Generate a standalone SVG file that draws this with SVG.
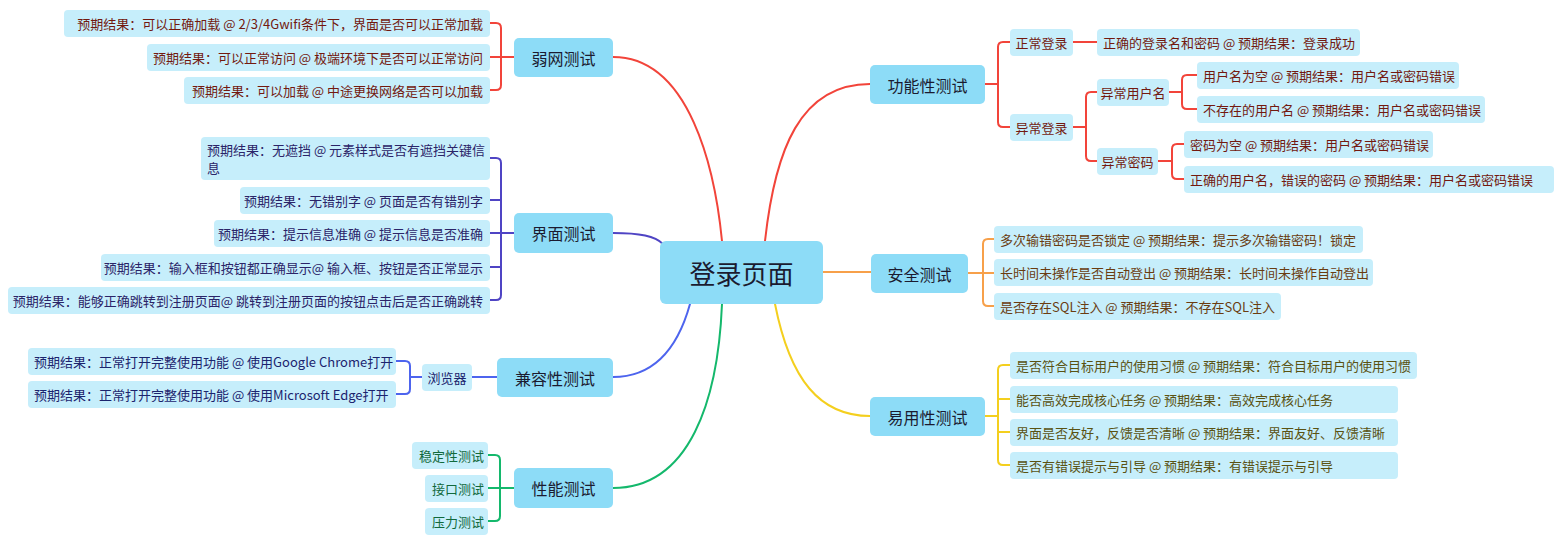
<svg xmlns="http://www.w3.org/2000/svg" width="1561" height="550" viewBox="0 0 1561 550">
<style>
text{font-family:"Noto Sans CJK SC","Noto Sans",sans-serif;dominant-baseline:central}
.main{fill:#8ddcf7}
.leaf{fill:#c6eefb}
.mt{font-size:16px;fill:#1b1b30;text-anchor:middle}
.lt{font-size:13px}
.r{fill:#73190f}.p{fill:#2b2468}.b{fill:#1b246e}.g{fill:#11693c}.o{fill:#6a3c10}.y{fill:#5a5212}
.e{text-anchor:end}.s{text-anchor:start}.m{text-anchor:middle}
#connectors path{fill:none;stroke-width:2;stroke-linecap:round}
.cr{stroke:#f2443a}.cp{stroke:#4f44c4}.cb{stroke:#4d64ee}.cg{stroke:#14b86c}.co{stroke:#f7a04a}.cy{stroke:#f4cf1e}
</style>
<rect width="1561" height="550" fill="#ffffff"/>
<g id="connectors">
<path class="cr" d="M613,57 C690,57 715,170 722,241"/>
<path class="cr" d="M765,241 C775,150 800,84 870,84"/>
<path class="cp" d="M613,233 C640,233 655,236 663,244"/>
<path class="cb" d="M613,377 C660,377 680,340 690,304"/>
<path class="cg" d="M613,488 C690,488 718,400 722,304"/>
<path class="co" d="M823,272 H871"/>
<path class="cy" d="M775,304 C790,380 820,416 870,416"/>
<path class="cr" d="M514,57 H490 M490,23 H496 Q501,23 501,28 V85 Q501,90 496,90 H490"/>
<path class="cp" d="M514,233 H490 M490,158 H496 Q501,158 501,163 V295 Q501,300 496,300 H490 M490,200 H501 M490,267 H501"/>
<path class="cb" d="M472,377 H497 M422,377 H410 M396,361 H405 Q410,361 410,366 V389 Q410,394 405,394 H396"/>
<path class="cg" d="M514,488 H488 M488,455 H495 Q500,455 500,460 V516 Q500,521 495,521 H488"/>
<path class="cr" d="M985,84 H998 M1010,42 H1003 Q998,42 998,47 V122 Q998,127 1003,127 H1010"/>
<path class="cr" d="M1073,42 H1097"/>
<path class="cr" d="M1073,127 H1086 M1097,92 H1091 Q1086,92 1086,97 V156 Q1086,161 1091,161 H1097"/>
<path class="cr" d="M1169,92 H1182 M1197,75 H1187 Q1182,75 1182,80 V104 Q1182,109 1187,109 H1197"/>
<path class="cr" d="M1158,161 H1172 M1184,144 H1177 Q1172,144 1172,149 V174 Q1172,179 1177,179 H1184"/>
<path class="co" d="M968,273 H994 M994,239 H988 Q983,239 983,244 V301 Q983,306 988,306 H994"/>
<path class="cy" d="M985,416 H998 M1010,365 H1003 Q998,365 998,370 V460 Q998,465 1003,465 H1010 M998,399 H1010 M998,432 H1010"/>
</g>
<g id="root">
<rect class="main" x="660" y="241" width="163" height="63" rx="6"/>
<text x="741.5" y="272.5" style="font-size:26px;fill:#1b1b30;text-anchor:middle">登录页面</text>
</g>
<!-- 弱网测试 -->
<g id="n-ruowang"><rect class="main" x="514" y="38" width="99" height="39" rx="5"/><text class="mt" x="563.5" y="57.5">弱网测试</text></g>
<g id="n-rw1"><rect class="leaf" x="64" y="10" width="426" height="27" rx="4"/><text class="lt r e" x="483" y="23.5">预期结果：可以正确加载 @ 2/3/4Gwifi条件下，界面是否可以正常加载</text></g>
<g id="n-rw2"><rect class="leaf" x="147" y="44" width="343" height="27" rx="4"/><text class="lt r e" x="483" y="57.5">预期结果：可以正常访问 @ 极端环境下是否可以正常访问</text></g>
<g id="n-rw3"><rect class="leaf" x="184" y="77" width="306" height="27" rx="4"/><text class="lt r e" x="483" y="90.5">预期结果：可以加载 @ 中途更换网络是否可以加载</text></g>
<!-- 界面测试 -->
<g id="n-jiemian"><rect class="main" x="514" y="213" width="99" height="40" rx="5"/><text class="mt" x="563.5" y="233">界面测试</text></g>
<g id="n-jm1"><rect class="leaf" x="201" y="137" width="289" height="43" rx="4"/><text class="lt p s" x="207" y="149">预期结果：无遮挡 @ 元素样式是否有遮挡关键信</text><text class="lt p s" x="207" y="167">息</text></g>
<g id="n-jm2"><rect class="leaf" x="240" y="187" width="250" height="27" rx="4"/><text class="lt p e" x="483" y="200.5">预期结果：无错别字 @ 页面是否有错别字</text></g>
<g id="n-jm3"><rect class="leaf" x="214" y="220" width="276" height="27" rx="4"/><text class="lt p e" x="483" y="233.5">预期结果：提示信息准确 @ 提示信息是否准确</text></g>
<g id="n-jm4"><rect class="leaf" x="101" y="254" width="389" height="27" rx="4"/><text class="lt p e" x="483" y="267.5">预期结果：输入框和按钮都正确显示@ 输入框、按钮是否正常显示</text></g>
<g id="n-jm5"><rect class="leaf" x="8" y="287" width="482" height="27" rx="4"/><text class="lt p e" x="483" y="300.5">预期结果：能够正确跳转到注册页面@ 跳转到注册页面的按钮点击后是否正确跳转</text></g>
<!-- 兼容性测试 -->
<g id="n-jianrong"><rect class="main" x="497" y="358" width="116" height="39" rx="5"/><text class="mt" x="555" y="377.5">兼容性测试</text></g>
<g id="n-browser"><rect class="leaf" x="422" y="364" width="50" height="27" rx="4"/><text class="lt b m" x="447" y="377.5">浏览器</text></g>
<g id="n-jr1"><rect class="leaf" x="28" y="348" width="368" height="27" rx="4"/><text class="lt b s" x="34" y="361.5">预期结果：正常打开完整使用功能 @ 使用Google Chrome打开</text></g>
<g id="n-jr2"><rect class="leaf" x="28" y="381" width="368" height="27" rx="4"/><text class="lt b s" x="34" y="394.5">预期结果：正常打开完整使用功能 @ 使用Microsoft Edge打开</text></g>
<!-- 性能测试 -->
<g id="n-xingneng"><rect class="main" x="514" y="468" width="99" height="40" rx="5"/><text class="mt" x="563.5" y="488">性能测试</text></g>
<g id="n-xn1"><rect class="leaf" x="412" y="442" width="76" height="27" rx="4"/><text class="lt g e" x="484" y="455.5">稳定性测试</text></g>
<g id="n-xn2"><rect class="leaf" x="425" y="475" width="63" height="27" rx="4"/><text class="lt g e" x="484" y="488.5">接口测试</text></g>
<g id="n-xn3"><rect class="leaf" x="425" y="508" width="63" height="27" rx="4"/><text class="lt g e" x="484" y="521.5">压力测试</text></g>
<!-- 功能性测试 -->
<g id="n-gongneng"><rect class="main" x="870" y="65" width="115" height="39" rx="5"/><text class="mt" x="927.5" y="84.5">功能性测试</text></g>
<g id="n-zcdl"><rect class="leaf" x="1010" y="29" width="63" height="27" rx="4"/><text class="lt r m" x="1041.5" y="42.5">正常登录</text></g>
<g id="n-zcdl1"><rect class="leaf" x="1097" y="29" width="263" height="27" rx="4"/><text class="lt r s" x="1103" y="42.5">正确的登录名和密码 @ 预期结果：登录成功</text></g>
<g id="n-ycdl"><rect class="leaf" x="1010" y="114" width="63" height="27" rx="4"/><text class="lt r m" x="1041.5" y="127.5">异常登录</text></g>
<g id="n-ycyhm"><rect class="leaf" x="1097" y="79" width="72" height="27" rx="4"/><text class="lt r m" x="1133" y="92.5">异常用户名</text></g>
<g id="n-ycyhm1"><rect class="leaf" x="1197" y="62" width="262" height="27" rx="4"/><text class="lt r s" x="1203" y="75.5">用户名为空 @ 预期结果：用户名或密码错误</text></g>
<g id="n-ycyhm2"><rect class="leaf" x="1197" y="96" width="288" height="27" rx="4"/><text class="lt r s" x="1203" y="109.5">不存在的用户名 @ 预期结果：用户名或密码错误</text></g>
<g id="n-ycmm"><rect class="leaf" x="1097" y="148" width="61" height="27" rx="4"/><text class="lt r m" x="1127.5" y="161.5">异常密码</text></g>
<g id="n-ycmm1"><rect class="leaf" x="1184" y="131" width="249" height="27" rx="4"/><text class="lt r s" x="1190" y="144.5">密码为空 @ 预期结果：用户名或密码错误</text></g>
<g id="n-ycmm2"><rect class="leaf" x="1184" y="166" width="370" height="27" rx="4"/><text class="lt r s" x="1190" y="179.5">正确的用户名，错误的密码 @ 预期结果：用户名或密码错误</text></g>
<!-- 安全测试 -->
<g id="n-anquan"><rect class="main" x="871" y="254" width="97" height="39" rx="5"/><text class="mt" x="919.5" y="273.5">安全测试</text></g>
<g id="n-aq1"><rect class="leaf" x="994" y="226" width="369" height="27" rx="4"/><text class="lt o s" x="1000" y="239.5">多次输错密码是否锁定 @ 预期结果：提示多次输错密码！锁定</text></g>
<g id="n-aq2"><rect class="leaf" x="994" y="259" width="379" height="27" rx="4"/><text class="lt o s" x="1000" y="272.5">长时间未操作是否自动登出 @ 预期结果：长时间未操作自动登出</text></g>
<g id="n-aq3"><rect class="leaf" x="994" y="293" width="287" height="27" rx="4"/><text class="lt o s" x="1000" y="306.5">是否存在SQL注入 @ 预期结果：不存在SQL注入</text></g>
<!-- 易用性测试 -->
<g id="n-yiyong"><rect class="main" x="870" y="397" width="115" height="39" rx="5"/><text class="mt" x="927.5" y="416.5">易用性测试</text></g>
<g id="n-yy1"><rect class="leaf" x="1010" y="352" width="407" height="27" rx="4"/><text class="lt y s" x="1016" y="365.5">是否符合目标用户的使用习惯 @ 预期结果：符合目标用户的使用习惯</text></g>
<g id="n-yy2"><rect class="leaf" x="1010" y="386" width="388" height="27" rx="4"/><text class="lt y s" x="1016" y="399.5">能否高效完成核心任务 @ 预期结果：高效完成核心任务</text></g>
<g id="n-yy3"><rect class="leaf" x="1010" y="419" width="388" height="27" rx="4"/><text class="lt y s" x="1016" y="432.5">界面是否友好，反馈是否清晰 @ 预期结果：界面友好、反馈清晰</text></g>
<g id="n-yy4"><rect class="leaf" x="1010" y="452" width="388" height="27" rx="4"/><text class="lt y s" x="1016" y="465.5">是否有错误提示与引导 @ 预期结果：有错误提示与引导</text></g>
</svg>
